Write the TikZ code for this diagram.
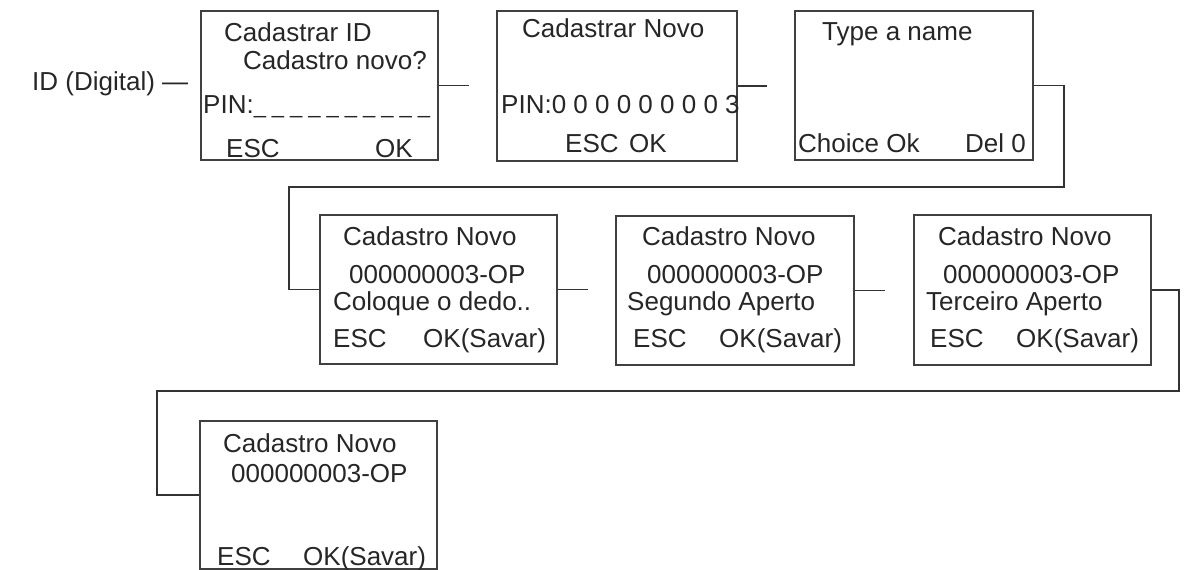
\documentclass[tikz,border=0pt]{standalone}
\usepackage{fontspec}
\setmainfont{Liberation Sans}
\begin{document}
\begin{tikzpicture}[x=1pt,y=-1pt,
  screen/.style={draw=black!75, line width=1.8pt, anchor=north west, inner sep=0pt,
    minimum width=237pt, minimum height=149pt},
  wire/.style={draw=black!80, line width=1.8pt},
  txt/.style={anchor=base west, inner sep=0pt, text=black!85, font=\fontsize{26}{30}\selectfont}]
  \useasboundingbox (0,0) rectangle (1192,570);
  % entrada
  \node[txt] (idlbl) at (32,90) {ID (Digital) —};
  % tela 1
  \node[screen] (b1) at (200,10) {};
  \node[txt] (b1a) at (224,41) {Cadastrar ID};
  \node[txt] (b1b) at (243,69) {Cadastro novo?};
  \node[txt] (b1c) at (203,113) {PIN:\foreach \k in {1,...,10}{{\fontsize{22}{26}\selectfont\_}\kern6pt}};
  \node[txt] (b1d) at (226,157) {ESC};
  \node[txt] (b1e) at (375,157) {OK};
  % tela 2
  \node[screen, minimum width=240pt, minimum height=150pt] (b2) at (496,10) {};
  \node[txt] (b2a) at (522,37) {Cadastrar Novo};
  \node[txt] (b2b) at (501,113) {PIN:0 0 0 0 0 0 0 0 3};
  \node[txt] (b2c) at (565,152) {ESC};
  \node[txt] (b2d) at (629,152) {OK};
  % tela 3
  \node[screen, minimum width=238pt] (b3) at (794,10) {};
  \node[txt] (b3a) at (822,40) {Type a name};
  \node[txt] (b3b) at (798,152) {Choice Ok};
  \node[txt] (b3c) at (965,152) {Del 0};
  % tela 4
  \node[screen] (b4) at (319,214) {};
  \node[txt] (b4a) at (343,245) {Cadastro Novo};
  \node[txt] (b4b) at (349,283) {000000003-OP};
  \node[txt] (b4c) at (333,310) {Coloque o dedo..};
  \node[txt] (b4d) at (333,347) {ESC};
  \node[txt] (b4e) at (423,347) {OK(Savar)};
  % tela 5
  \node[screen, minimum width=238pt] (b5) at (615,215) {};
  \node[txt] (b5a) at (642,245) {Cadastro Novo};
  \node[txt] (b5b) at (647,283) {000000003-OP};
  \node[txt] (b5c) at (627,310) {Segundo Aperto};
  \node[txt] (b5d) at (633,347) {ESC};
  \node[txt] (b5e) at (719,347) {OK(Savar)};
  % tela 6
  \node[screen, minimum height=150pt] (b6) at (913,214) {};
  \node[txt] (b6a) at (938,245) {Cadastro Novo};
  \node[txt] (b6b) at (943,283) {000000003-OP};
  \node[txt] (b6c) at (926,310) {Terceiro Aperto};
  \node[txt] (b6d) at (930,347) {ESC};
  \node[txt] (b6e) at (1016,347) {OK(Savar)};
  % tela 7
  \node[screen, minimum height=148pt] (b7) at (199,420) {};
  \node[txt] (b7a) at (223,452) {Cadastro Novo};
  \node[txt] (b7b) at (231,482) {000000003-OP};
  \node[txt] (b7c) at (217,565) {ESC};
  \node[txt] (b7d) at (303,565) {OK(Savar)};
  % ligacoes
  \coordinate (k1) at (289,187);
  \coordinate (k2) at (157,391);
  \draw[wire] (b1.east) -- +(30,0) coordinate (e1);
  \draw[wire] (b2.east) -- +(29,0) coordinate (e2);
  \draw[wire] (b3.east) -- ++(30,0) |- (k1) |- (b4.west);
  \draw[wire] (b4.east) -- +(30,0) coordinate (e4);
  \draw[wire] (b5.east) -- +(30,0) coordinate (e5);
  \draw[wire] (b6.east) -- ++(27,0) |- (k2) |- (b7.west);
\end{tikzpicture}
\end{document}
